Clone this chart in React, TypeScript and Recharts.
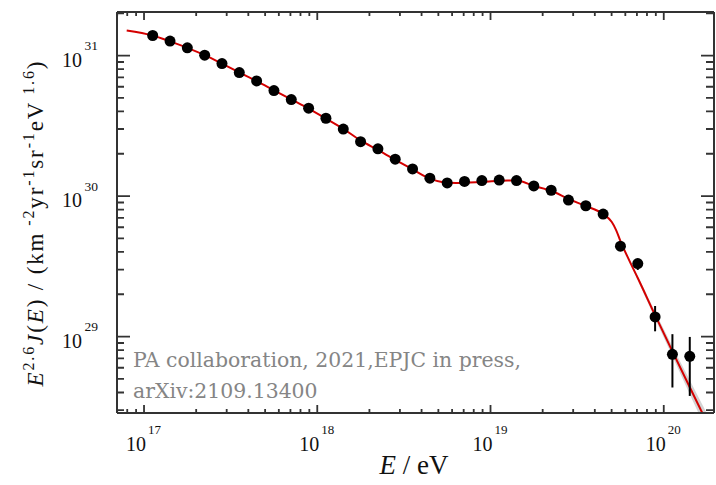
import React from 'react';
import { ComposedChart, Line, Scatter, Area, XAxis, YAxis, ErrorBar } from 'recharts';

// measured spectrum, E^2.6 J(E) in km^-2 yr^-1 sr^-1 eV^1.6
const energies = [
  1.122e17, 1.413e17, 1.778e17, 2.239e17, 2.818e17, 3.548e17, 4.467e17, 5.623e17, 7.079e17, 8.913e17,
  1.122e18, 1.413e18, 1.778e18, 2.239e18, 2.818e18, 3.548e18, 4.467e18, 5.623e18, 7.079e18, 8.913e18,
  1.122e19, 1.413e19, 1.778e19, 2.239e19, 2.818e19, 3.548e19, 4.467e19, 5.623e19, 7.079e19, 8.913e19,
  1.122e20, 1.413e20,
];
const fluxes = [
  1.389e31, 1.267e31, 1.135e31, 1.006e31, 8.77e30, 7.57e30, 6.6e30, 5.63e30, 4.86e30, 4.22e30,
  3.58e30, 3.0e30, 2.44e30, 2.17e30, 1.83e30, 1.56e30, 1.34e30, 1.24e30, 1.27e30, 1.29e30,
  1.3e30, 1.29e30, 1.18e30, 1.1e30, 9.36e29, 8.53e29, 7.45e29, 4.4e29, 3.31e29, 1.38e29,
  7.48e28, 7.23e28,
];
// error bar ends (null = no visible bar)
const errLow = [
  null, null, null, null, null, null, null, null, null, null,
  null, null, null, null, null, null, null, null, null, null,
  null, null, null, null, null, null, null, null, 2.98e29, 1.09e29,
  4.34e28, 3.78e28,
];
const errHigh = [
  null, null, null, null, null, null, null, null, null, null,
  null, null, null, null, null, null, null, null, null, null,
  null, null, null, null, null, null, null, null, 3.57e29, 1.65e29,
  1.04e29, 9.94e28,
];

// fitted broken power law (red)
const fitEnergies = [
  7.943e16, 1.122e17, 1.413e17, 1.778e17, 2.239e17, 2.818e17, 3.548e17, 4.467e17, 5.623e17, 7.079e17,
  8.913e17, 1.122e18, 1.413e18, 1.778e18, 2.239e18, 2.818e18, 3.548e18, 4.467e18, 5.248e18, 6.31e18,
  8.913e18, 1.259e19, 1.413e19, 1.778e19, 2.239e19, 2.818e19, 3.548e19, 4.467e19, 5.012e19, 5.309e19,
  5.623e19, 6.31e19, 7.079e19, 8.913e19, 1.122e20, 1.413e20, 1.995e20,
];
const fitValues = [
  1.51e31, 1.389e31, 1.262e31, 1.135e31, 1.007e31, 8.77e30, 7.59e30, 6.58e30, 5.66e30, 4.87e30,
  4.19e30, 3.56e30, 3.01e30, 2.49e30, 2.13e30, 1.81e30, 1.55e30, 1.33e30, 1.26e30, 1.24e30,
  1.26e30, 1.29e30, 1.29e30, 1.18e30, 1.09e30, 9.53e29, 8.5e29, 7.45e29, 6.53e29, 5.73e29,
  4.78e29, 3.5e29, 2.61e29, 1.42e29, 7.85e28, 4.36e28, 1.82e28,
];

// grey uncertainty band of the fit
const bandEnergies = [5.623e19, 7.079e19, 8.913e19, 1.122e20, 1.413e20, 1.995e20];
const bandLow = [4.75e29, 2.52e29, 1.34e29, 7.25e28, 3.89e28, 1.55e28];
const bandHigh = [4.81e29, 2.7e29, 1.5e29, 8.51e28, 4.89e28, 2.14e28];

const majorX = [1e17, 1e18, 1e19, 1e20];
const majorY = [1e29, 1e30, 1e31];
const minorSteps = [2, 3, 4, 5, 6, 7, 8, 9];

const X_DOMAIN = [Math.pow(10, 16.844), Math.pow(10, 20.29)];
const Y_DOMAIN = [Math.pow(10, 28.456), Math.pow(10, 31.31)];

// frame of the plot area (set by the axis sizes below)
const PLOT_TOP = 12;
const PLOT_RIGHT = 714;

const FRAME = '#333';
const SERIF = '"Liberation Serif", "Times New Roman", serif';

const points = energies.map((e, i) => ({
  e,
  v: fluxes[i],
  err: errLow[i] == null ? [0, 0] : [fluxes[i] - (errLow[i] as number), (errHigh[i] as number) - fluxes[i]],
}));
const fit = fitEnergies.map((e, i) => ({ e, v: fitValues[i] }));
const band = bandEnergies.map((e, i) => ({ e, band: [bandLow[i], bandHigh[i]] }));

const withMinors = (majors: number[], lo: number, hi: number) => {
  const out: number[] = [];
  [majors[0] / 10, ...majors].forEach(m => {
    out.push(m);
    minorSteps.forEach(s => out.push(m * s));
  });
  return out.filter(v => v >= lo && v <= hi).sort((a, b) => a - b);
};
const xTicks = withMinors(majorX, X_DOMAIN[0], X_DOMAIN[1]);
const yTicks = withMinors(majorY, Y_DOMAIN[0], Y_DOMAIN[1]);

const isMajor = (v: number) => Math.abs(Math.log10(v) - Math.round(Math.log10(v))) < 1e-6;
const expOf = (v: number) => Math.round(Math.log10(v));

// bottom axis tick: inward marks at bottom and top of the frame plus label
const BottomTick = (props: any) => {
  const { x, y, payload } = props;
  const major = isMajor(payload.value);
  const len = major ? 8 : 4;
  return (
    <g>
      <path d={`M${x},${y}V${y - len}M${x},${PLOT_TOP}V${PLOT_TOP + len}`} stroke={FRAME} strokeWidth={1.8} fill="none" />
      {major && (
        <g fontFamily={SERIF} fill="#111">
          <text x={x + 2} y={y + 37.5} fontSize={20} textAnchor="end">10</text>
          <text x={x + 4} y={y + 20.5} fontSize={13}>{expOf(payload.value)}</text>
        </g>
      )}
    </g>
  );
};

// left axis tick: inward marks at left and right of the frame plus label
const LeftTick = (props: any) => {
  const { x, y, payload } = props;
  const major = isMajor(payload.value);
  return (
    <g>
      <path
        d={`M${x},${y}H${x + (major ? 13 : 7)}M${PLOT_RIGHT},${y}H${PLOT_RIGHT - (major ? 13 : 8)}`}
        stroke={FRAME}
        strokeWidth={1.8}
        fill="none"
      />
      {major && (
        <g fontFamily={SERIF} fill="#111">
          <text x={x - 35} y={y + 11} fontSize={20} textAnchor="end">10</text>
          <text x={x - 32.5} y={y - 5.5} fontSize={13.5}>{expOf(payload.value)}</text>
        </g>
      )}
    </g>
  );
};

const Dot = (props: any) => <circle cx={props.cx} cy={props.cy} r={5.5} fill="#000" />;

const sup = { fontSize: 16 };

export default function App() {
  return (
    <div style={{ position: 'absolute', left: 0, top: 0, width: 716, height: 485, background: '#fff' }}>
      <ComposedChart width={716} height={485} margin={{ top: 0, right: 0, bottom: 0, left: 0 }}>
        <XAxis
          dataKey="e"
          type="number"
          scale="log"
          domain={X_DOMAIN}
          allowDataOverflow
          ticks={xTicks}
          interval={0}
          height={72}
          tickLine={false}
          tickSize={0}
          tickMargin={0}
          tick={<BottomTick />}
          axisLine={{ stroke: FRAME, strokeWidth: 2 }}
        />
        <XAxis
          xAxisId="top"
          orientation="top"
          type="number"
          scale="log"
          domain={X_DOMAIN}
          allowDataOverflow
          height={PLOT_TOP}
          tick={false}
          tickLine={false}
          axisLine={{ stroke: FRAME, strokeWidth: 2 }}
        />
        <YAxis
          dataKey="v"
          type="number"
          scale="log"
          domain={Y_DOMAIN}
          allowDataOverflow
          ticks={yTicks}
          interval={0}
          width={117}
          tickLine={false}
          tickSize={0}
          tickMargin={0}
          tick={<LeftTick />}
          axisLine={{ stroke: FRAME, strokeWidth: 2 }}
        />
        <YAxis
          yAxisId="right"
          orientation="right"
          type="number"
          scale="log"
          domain={Y_DOMAIN}
          allowDataOverflow
          width={716 - PLOT_RIGHT}
          tick={false}
          tickLine={false}
          axisLine={{ stroke: FRAME, strokeWidth: 2 }}
        />
        <Area
          data={band}
          dataKey="band"
          type="linear"
          stroke="none"
          fill="#c8c8c8"
          fillOpacity={0.8}
          isAnimationActive={false}
        />
        <Line
          data={fit}
          dataKey="v"
          type="monotone"
          stroke="#d40000"
          strokeWidth={2}
          dot={false}
          activeDot={false}
          isAnimationActive={false}
        />
        <Scatter data={points} dataKey="v" shape={<Dot />} isAnimationActive={false}>
          <ErrorBar dataKey="err" direction="y" width={0} stroke="#000" strokeWidth={2} />
        </Scatter>
      </ComposedChart>
      <svg
        width={716}
        height={485}
        style={{ position: 'absolute', left: 0, top: 0, pointerEvents: 'none' }}
      >
        <text
          transform="translate(43, 224) rotate(-90)"
          textAnchor="middle"
          fontFamily={SERIF}
          fontSize={23}
          fill="#111"
          textLength={325}
          lengthAdjust="spacing"
        >
          <tspan fontStyle="italic">E</tspan>
          <tspan {...sup} dy={-9}>2.6</tspan>
          <tspan dy={9} fontStyle="italic">J</tspan>
          <tspan>(</tspan>
          <tspan fontStyle="italic">E</tspan>
          <tspan>) / (km</tspan>
          <tspan {...sup} dy={-9}> -2</tspan>
          <tspan dy={9}>yr</tspan>
          <tspan {...sup} dy={-9}>-1</tspan>
          <tspan dy={9}>sr</tspan>
          <tspan {...sup} dy={-9}>-1</tspan>
          <tspan dy={9}>eV</tspan>
          <tspan {...sup} dy={-9}> 1.6</tspan>
          <tspan dy={9}>)</tspan>
        </text>
        <text x={414} y={473.5} textAnchor="middle" fontFamily={SERIF} fontSize={27} fill="#111">
          <tspan fontStyle="italic">E</tspan>
          <tspan> / eV</tspan>
        </text>
        <g fontFamily='"DejaVu Serif", serif' fontSize={20.4} fill="#858585">
          <text x={133} y={367}>PA collaboration, 2021,EPJC in press,</text>
          <text x={133} y={398}>arXiv:2109.13400</text>
        </g>
      </svg>
    </div>
  );
}
